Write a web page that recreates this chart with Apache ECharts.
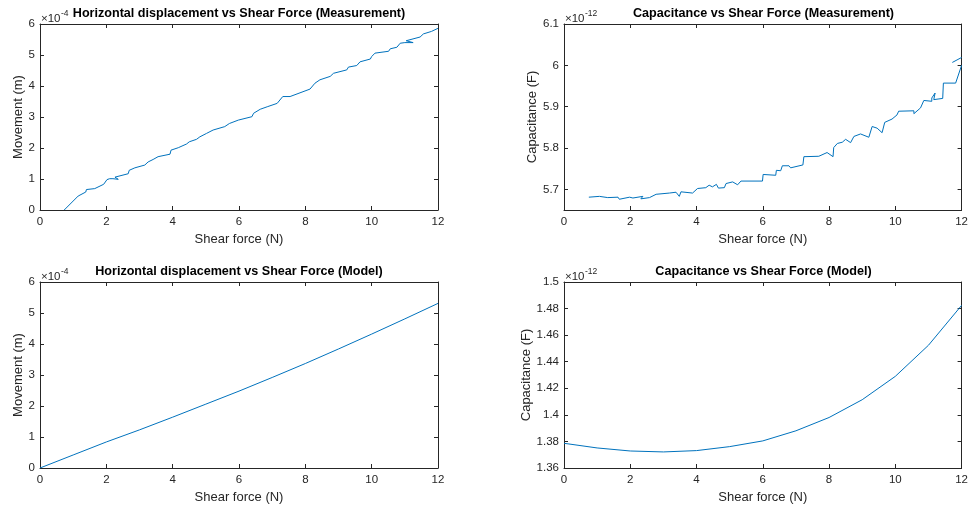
<!DOCTYPE html>
<html>
<head>
<meta charset="utf-8">
<script src="https://cdn.jsdelivr.net/npm/echarts@6/dist/echarts.min.js"></script>
<style>
  html, body { margin: 0; padding: 0; background: #ffffff; }
  #chart { width: 971px; height: 508px; }
</style>
</head>
<body>
<div id="chart"></div>
<script>
// Horizontal displacement, measured (force in N, movement in units of 1e-4 m)
const dispMeasForce = [0.73, 1.15, 1.38, 1.40, 1.45, 1.65, 1.70, 1.92, 2.02, 2.10, 2.20, 2.36, 2.26, 2.66, 2.69, 2.86, 3.16, 3.26, 3.41, 3.56,
  3.92, 3.95, 4.17, 4.42, 4.50, 4.72, 4.82, 5.02, 5.22, 5.57, 5.71, 5.98, 6.39, 6.44, 6.64, 6.85, 7.15, 7.32, 7.54, 8.14,
  8.29, 8.44, 8.75, 8.85, 9.25, 9.30, 9.55, 9.65, 9.96, 10.00, 10.10, 10.51, 10.56, 10.76, 10.86, 11.00, 11.25, 11.04, 11.46, 11.56,
  11.80, 12.00];
const dispMeasMove = [0.00, 0.45, 0.58, 0.66, 0.64, 0.69, 0.74, 0.83, 0.98, 1.01, 1.01, 0.99, 1.06, 1.17, 1.28, 1.36, 1.45, 1.55, 1.63, 1.72,
  1.80, 1.93, 2.01, 2.13, 2.20, 2.28, 2.36, 2.47, 2.58, 2.69, 2.79, 2.90, 3.01, 3.12, 3.25, 3.33, 3.44, 3.66, 3.66, 3.90,
  4.09, 4.20, 4.31, 4.41, 4.52, 4.61, 4.66, 4.78, 4.87, 4.95, 5.06, 5.12, 5.20, 5.25, 5.38, 5.40, 5.40, 5.46, 5.58, 5.68,
  5.76, 5.86];

// Capacitance, measured (force in N, capacitance in units of 1e-12 F)
const capMeasForce = [0.75, 1.07, 1.32, 1.37, 1.63, 1.67, 1.98, 2.08, 2.38, 2.32, 2.58, 2.78, 3.18, 3.38, 3.48, 3.53, 3.88, 4.03, 4.28, 4.38,
  4.48, 4.60, 4.66, 4.84, 4.89, 5.09, 5.14, 5.24, 5.34, 5.99, 6.01, 6.39, 6.41, 6.54, 6.59, 6.79, 6.84, 7.21, 7.24, 7.69,
  7.94, 8.12, 8.14, 8.25, 8.40, 8.50, 8.65, 8.75, 8.95, 9.20, 9.30, 9.45, 9.60, 9.68, 9.90, 10.05, 10.10, 10.56, 10.56, 10.76,
  10.86, 11.10, 11.10, 11.20, 11.16, 11.43, 11.45, 11.82, 11.86, 12.00];
const capMeasValue = [5.681, 5.683, 5.680, 5.677, 5.681, 5.676, 5.681, 5.679, 5.683, 5.677, 5.680, 5.688, 5.691, 5.693, 5.683, 5.694, 5.691, 5.702, 5.704, 5.710,
  5.706, 5.712, 5.703, 5.704, 5.714, 5.718, 5.722, 5.711, 5.720, 5.720, 5.736, 5.734, 5.746, 5.745, 5.757, 5.757, 5.752, 5.759, 5.779, 5.780,
  5.789, 5.779, 5.801, 5.811, 5.814, 5.821, 5.813, 5.828, 5.834, 5.826, 5.852, 5.848, 5.837, 5.862, 5.870, 5.880, 5.889, 5.890, 5.883, 5.897,
  5.915, 5.913, 5.921, 5.933, 5.917, 5.920, 5.957, 5.957, 5.954, 6.000];
// last short stretch of the measured capacitance trace
const capTailForce = [11.72, 12.00];
const capTailValue = [6.007, 6.019];

// Model curves at whole-newton steps
const modelForce = [0, 1, 2, 3, 4, 5, 6, 7, 8, 9, 10, 11, 12];
const dispModelMove = [0.00, 0.42, 0.84, 1.23, 1.64, 2.06, 2.48, 2.92, 3.37, 3.84, 4.32, 4.81, 5.31];
const capModelValue = [1.3786, 1.3751, 1.3728, 1.3721, 1.3731, 1.3761, 1.3804, 1.3880, 1.3980, 1.4114, 1.4290, 1.4524, 1.4824];

// Tick labels
const forceTicks = [0, 2, 4, 6, 8, 10, 12];
const moveTicks = [0, 1, 2, 3, 4, 5, 6];
const capMeasTicks = [5.7, 5.8, 5.9, 6, 6.1];
const capModelTicks = [1.36, 1.38, 1.4, 1.42, 1.44, 1.46, 1.48, 1.5];

const titles = [
  'Horizontal displacement vs Shear Force (Measurement)',
  'Capacitance vs Shear Force (Measurement)',
  'Horizontal displacement vs Shear Force (Model)',
  'Capacitance vs Shear Force (Model)'
];
const exponents = ['-4', '-12', '-4', '-12'];
const xName = 'Shear force (N)';
const yNames = ['Movement (m)', 'Capacitance (F)', 'Movement (m)', 'Capacitance (F)'];

const zip = (xs, ys) => xs.map((x, i) => [x, ys[i]]);

const FONT = '"Liberation Sans", Arial, Helvetica, sans-serif';
const INK = '#262626';
const LINE = '#0072BD';

const grids = [
  { left: 40, top: 24, width: 398, height: 186 },
  { left: 564, top: 24, width: 399, height: 186 },
  { left: 40, top: 282, width: 398, height: 186 },
  { left: 564, top: 282, width: 399, height: 186 }
];

const yRanges = [
  { min: 0, max: 6, ticks: moveTicks },
  { min: 5.65, max: 6.1, ticks: capMeasTicks },
  { min: 0, max: 6, ticks: moveTicks },
  { min: 1.36, max: 1.5, ticks: capModelTicks }
];

const xAxes = [];
const yAxes = [];
grids.forEach((g, i) => {
  ['bottom', 'top'].forEach(pos => {
    xAxes.push({
      type: 'value', gridIndex: i, position: pos, min: 0, max: 12,
      name: pos === 'bottom' ? xName : '',
      nameLocation: 'middle', nameGap: 23,
      nameTextStyle: { fontFamily: FONT, fontSize: 13, color: INK },
      axisLine: { show: true, onZero: false, lineStyle: { color: INK, width: 1 } },
      axisTick: { show: true, inside: true, length: 4, customValues: forceTicks, lineStyle: { color: INK } },
      axisLabel: { show: pos === 'bottom', customValues: forceTicks, margin: 6, fontFamily: FONT, fontSize: 11.5, color: INK },
      splitLine: { show: false }
    });
  });
  const r = yRanges[i];
  ['left', 'right'].forEach(pos => {
    yAxes.push({
      type: 'value', gridIndex: i, position: pos, min: r.min, max: r.max,
      name: pos === 'left' ? yNames[i] : '',
      nameLocation: 'middle', nameGap: i % 2 === 0 ? 15 : 24,
      nameTextStyle: { fontFamily: FONT, fontSize: 13, color: INK },
      axisLine: { show: true, onZero: false, lineStyle: { color: INK, width: 1 } },
      axisTick: { show: true, inside: true, length: 4, customValues: r.ticks, lineStyle: { color: INK } },
      axisLabel: { show: pos === 'left', customValues: r.ticks, margin: 5, fontFamily: FONT, fontSize: 11.5, color: INK },
      splitLine: { show: false }
    });
  });
});

const lineSeries = (idx, data) => ({
  type: 'line', xAxisIndex: idx * 2, yAxisIndex: idx * 2, data,
  showSymbol: false, symbol: 'none', clip: true, silent: true,
  lineStyle: { color: LINE, width: 1 }
});

const series = [
  lineSeries(0, zip(dispMeasForce, dispMeasMove)),
  lineSeries(1, zip(capMeasForce, capMeasValue)),
  lineSeries(1, zip(capTailForce, capTailValue)),
  lineSeries(2, zip(modelForce, dispModelMove)),
  lineSeries(3, zip(modelForce, capModelValue))
];

// Panel titles and the MATLAB-style "×10^n" axis multipliers
const graphic = [];
grids.forEach((g, i) => {
  graphic.push({
    type: 'text', x: g.left + g.width / 2, y: g.top - 10,
    style: { text: titles[i], fontFamily: FONT, fontSize: 12.6, fontWeight: 'bold', fill: '#000', align: 'center', verticalAlign: 'middle' }
  });
  graphic.push({
    type: 'text', x: g.left + 1, y: g.top - 5,
    style: { text: '×10', fontFamily: FONT, fontSize: 11.5, fill: INK, align: 'left', verticalAlign: 'middle' }
  });
  graphic.push({
    type: 'text', x: g.left + 21, y: g.top - 10,
    style: { text: exponents[i], fontFamily: FONT, fontSize: 8.5, fill: INK, align: 'left', verticalAlign: 'middle' }
  });
});

const chart = echarts.init(document.getElementById('chart'), null, { renderer: 'canvas' });
chart.setOption({
  backgroundColor: '#ffffff',
  animation: false,
  grid: grids,
  xAxis: xAxes,
  yAxis: yAxes,
  series,
  graphic
});
</script>
</body>
</html>
